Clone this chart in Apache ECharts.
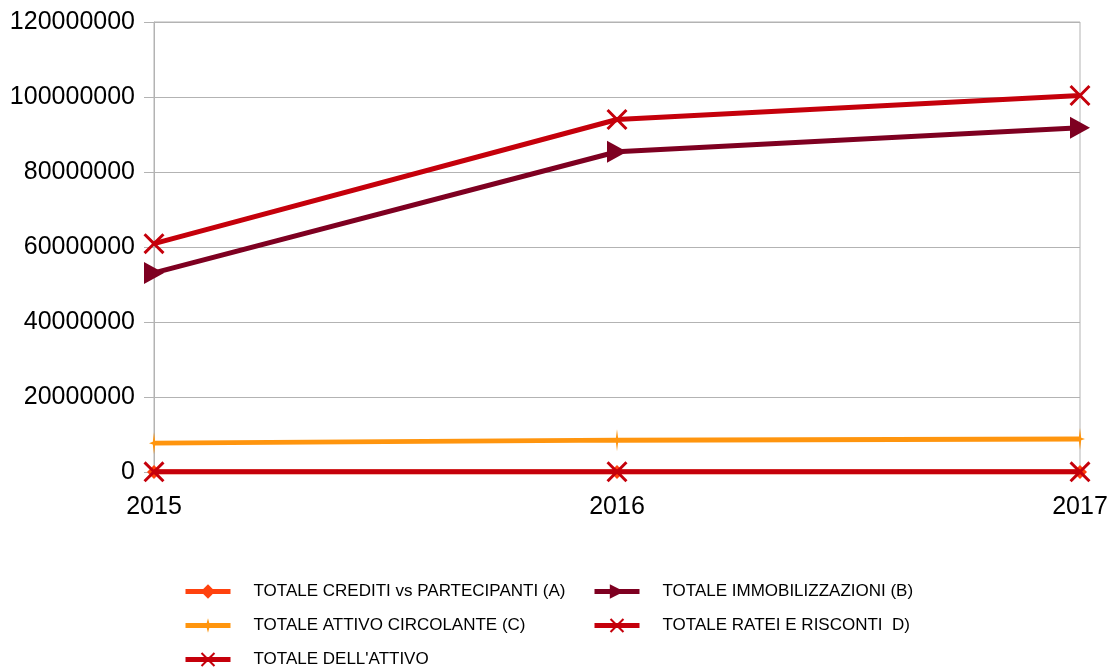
<!DOCTYPE html>
<html>
<head>
<meta charset="utf-8">
<script src="https://cdn.jsdelivr.net/npm/echarts@6/dist/echarts.min.js"></script>
<style>
  html, body { margin: 0; padding: 0; background: #fff; }
  #chart { width: 1108px; height: 668px; }
</style>
</head>
<body>
<div id="chart"></div>
<script>
// data
const years = ['2015', '2016', '2017'];
const seriesNames = [
  'TOTALE CREDITI vs PARTECIPANTI (A)',
  'TOTALE IMMOBILIZZAZIONI (B)',
  'TOTALE ATTIVO CIRCOLANTE (C)',
  'TOTALE RATEI E RISCONTI  D)',
  "TOTALE DELL'ATTIVO"
];
const crediti = [0, 0, 0];
const immobilizzazioni = [53100000, 85400000, 91800000];
const circolante = [7700000, 8500000, 8800000];
const ratei = [60000, 70000, 50000];
const totaleAttivo = [60900000, 94000000, 100400000];

const colors = ['#ff420e', '#7e0021', '#ff950e', '#c5000b', '#c5000b'];
const xMark = 'path://M-10,-8 L-8,-10 L0,-2 L8,-10 L10,-8 L2,0 L10,8 L8,10 L0,2 L-8,10 L-10,8 L-2,0 Z';
const spike = 'path://M0,-10 L1.2,-1.2 L5,0 L1.2,1.2 L0,10 L-1.2,1.2 L-5,0 L-1.2,-1.2 Z';
const arrow = 'path://M0,0 L10,5 L0,10 Z';
const symbols = ['diamond', arrow, spike, xMark, xMark];
const symbolSizes = [14, [20, 22], [10, 22], 21, 21];
const values = [crediti, immobilizzazioni, circolante, ratei, totaleAttivo];

const chart = echarts.init(document.getElementById('chart'));

const series = seriesNames.map((name, i) => ({
  name: name,
  type: 'line',
  data: values[i],
  symbol: symbols[i],
  symbolSize: symbolSizes[i],
  showAllSymbol: true,
  lineStyle: { width: 5, color: colors[i] },
  itemStyle: { color: colors[i] },
  z: 2 + i
}));

// legend positions like the original (two columns, three rows)
const legendPos = [[183, 583], [592, 583], [183, 617], [592, 617], [183, 651]];
const legends = seriesNames.map((name, i) => ({
  data: [name],
  left: legendPos[i][0],
  top: legendPos[i][1],
  padding: 0,
  itemWidth: 45,
  itemHeight: 18,
  itemGap: 0,
  selectedMode: false,
  lineStyle: { width: 5 },
  textStyle: {
    fontFamily: 'Liberation Sans Narrow, Liberation Sans, sans-serif',
    fontSize: 17,
    color: '#000',
    padding: [0, 0, 0, 18]
  }
}));

const option = {
  animation: false,
  color: colors,
  grid: {
    left: 154, right: 28, top: 22, bottom: 196,
    outerBoundsMode: 'none',
    show: true, borderColor: '#b3b3b3', borderWidth: 1
  },
  legend: legends,
  xAxis: {
    type: 'category',
    data: years,
    boundaryGap: false,
    axisLine: { show: false },
    axisTick: { show: false },
    axisLabel: {
      color: '#000', fontSize: 25, margin: 23,
      fontFamily: 'Liberation Sans, Arial, sans-serif'
    },
    splitLine: { show: false }
  },
  yAxis: {
    type: 'value',
    min: 0, max: 120000000, interval: 20000000,
    axisLine: { show: true, lineStyle: { color: '#b3b3b3' } },
    axisTick: { show: true, inside: false, length: 10, lineStyle: { color: '#b3b3b3' } },
    axisLabel: {
      color: '#000', fontSize: 25, margin: 19,
      fontFamily: 'Liberation Sans, Arial, sans-serif',
      formatter: v => String(v)
    },
    splitLine: { lineStyle: { color: '#b3b3b3' } }
  },
  series: series
};

chart.setOption(option);
</script>
</body>
</html>
